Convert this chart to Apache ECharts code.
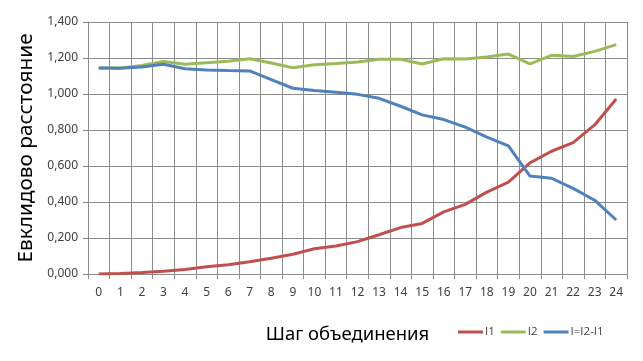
<!DOCTYPE html>
<html>
<head>
<meta charset="utf-8">
<script src="https://cdn.jsdelivr.net/npm/echarts@6/dist/echarts.min.js"></script>
<style>
  html, body { margin: 0; padding: 0; background: #fff; }
  #chart { width: 643px; height: 361px; }
</style>
</head>
<body>
<div id="chart"></div>
<script>
// шаги объединения
var steps = ['0','1','2','3','4','5','6','7','8','9','10','11','12','13','14','15','16','17','18','19','20','21','22','23','24'];
// I1
var i1 = [0, 0.003, 0.008, 0.015, 0.025, 0.040, 0.052, 0.068, 0.088, 0.110, 0.140, 0.156, 0.180, 0.218, 0.258, 0.281, 0.345, 0.387, 0.455, 0.510, 0.617, 0.682, 0.730, 0.828, 0.972];
// I2
var i2 = [1.145, 1.145, 1.158, 1.180, 1.165, 1.174, 1.182, 1.196, 1.172, 1.146, 1.163, 1.170, 1.178, 1.193, 1.193, 1.167, 1.196, 1.194, 1.206, 1.222, 1.167, 1.215, 1.208, 1.237, 1.274];
// I = I2 - I1
var iDiff = [1.145, 1.143, 1.150, 1.165, 1.140, 1.133, 1.130, 1.128, 1.080, 1.032, 1.020, 1.010, 0.998, 0.976, 0.932, 0.884, 0.858, 0.816, 0.760, 0.712, 0.544, 0.532, 0.476, 0.410, 0.300];

var gridColor = '#8c8c8c';
var textColor = '#404040';
var font = 'Noto Sans';

var option = {
  animation: false,
  textStyle: { fontFamily: font },
  grid: { left: 88, right: 16, top: 22, bottom: 87 },
  legend: {
    left: 458,
    top: 326,
    padding: 0,
    icon: 'rect',
    itemWidth: 25,
    itemHeight: 3,
    itemGap: 6,
    textStyle: { color: textColor, fontFamily: 'Open Sans', fontSize: 11.5, padding: [0, 0, 0, -3] },
    data: ['I1', 'I2', 'I=I2-I1']
  },
  xAxis: {
    type: 'category',
    data: steps,
    boundaryGap: true,
    name: 'Шаг объединения',
    nameLocation: 'middle',
    nameGap: 51,
    nameTextStyle: { color: '#000', fontFamily: font, fontSize: 18.5, padding: [0, 20, 0, 0] },
    axisLine: { lineStyle: { color: gridColor } },
    axisTick: { show: true, interval: 0, length: 5, lineStyle: { color: gridColor } },
    axisLabel: { interval: 0, color: textColor, fontFamily: font, fontSize: 12, margin: 13 },
    splitLine: { show: true, interval: 0, lineStyle: { color: gridColor, width: 1 } }
  },
  yAxis: {
    type: 'value',
    min: 0,
    max: 1.4,
    interval: 0.2,
    name: 'Евклидово расстояние',
    nameLocation: 'middle',
    nameGap: 46,
    nameTextStyle: { color: '#000', fontFamily: font, fontSize: 20.8 },
    axisLine: { show: true, lineStyle: { color: gridColor } },
    axisTick: { show: true, length: 5, lineStyle: { color: gridColor } },
    axisLabel: {
      color: textColor, fontFamily: font, fontSize: 12, margin: 10,
      formatter: function (v) { return v.toFixed(3).replace('.', ','); }
    },
    splitLine: { show: true, lineStyle: { color: gridColor, width: 1 } }
  },
  series: [
    { name: 'I1', type: 'line', data: i1, showSymbol: false, lineStyle: { width: 3, color: '#c0504d' }, itemStyle: { color: '#c0504d' } },
    { name: 'I2', type: 'line', data: i2, showSymbol: false, lineStyle: { width: 3, color: '#9bbb59' }, itemStyle: { color: '#9bbb59' } },
    { name: 'I=I2-I1', type: 'line', data: iDiff, showSymbol: false, lineStyle: { width: 3, color: '#4f81bd' }, itemStyle: { color: '#4f81bd' } }
  ]
};

var chart = echarts.init(document.getElementById('chart'));
chart.setOption(option);
</script>
</body>
</html>
